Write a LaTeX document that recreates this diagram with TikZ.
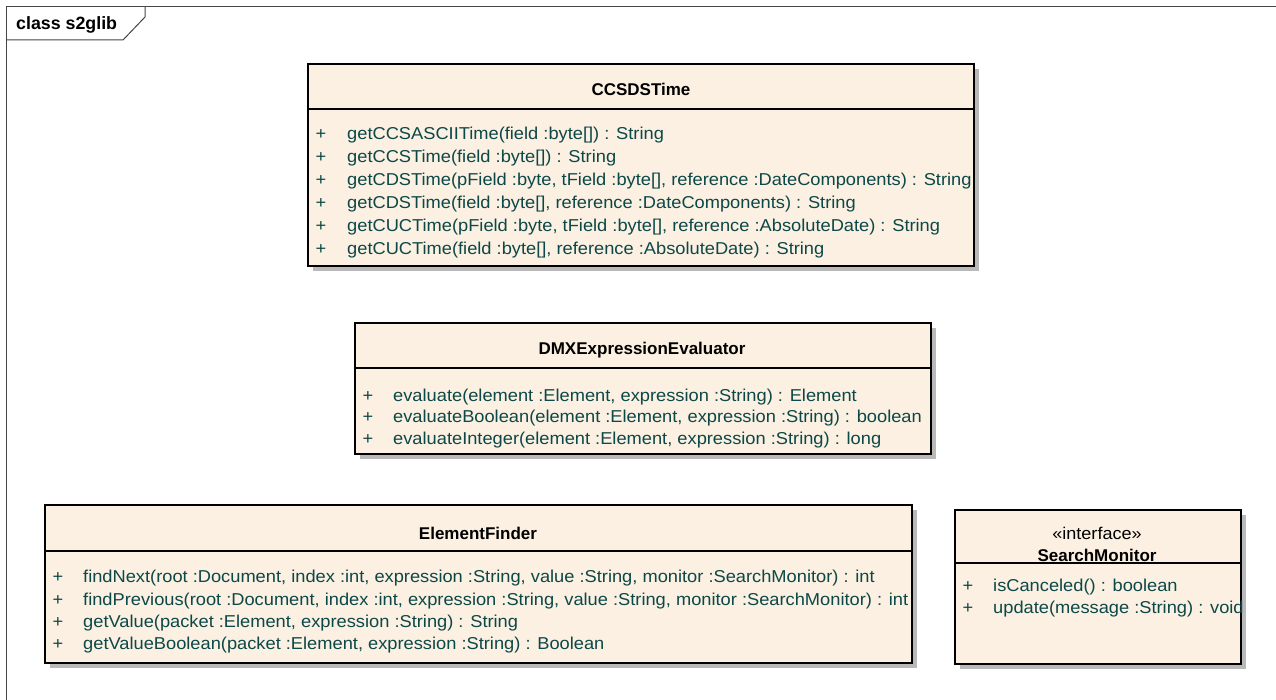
\documentclass[tikz,border=0pt]{standalone}
\usepackage{fontspec}
\setmainfont{Liberation Sans}
\newfontfamily\umlplain[FakeStretch=1.062]{Liberation Sans}
\usetikzlibrary{shadows}
\definecolor{umlfill}{RGB}{251,240,225}
\definecolor{umltext}{RGB}{12,72,72}
\definecolor{shadowgray}{RGB}{185,185,185}
\definecolor{framegray}{RGB}{70,70,70}
\begin{document}
\begin{tikzpicture}[x=1pt,y=-1pt,
  classbox/.style={draw=black, line width=1.6pt, fill=umlfill, inner sep=0pt, anchor=north west,
    drop shadow={shadow xshift=5pt, shadow yshift=-5pt, fill=shadowgray, opacity=1}},
  sepline/.style={draw=black, line width=1.6pt},
  frameline/.style={draw=framegray, line width=1pt},
  ctitle/.style={inner sep=0pt, font=\fontsize{17}{20}\selectfont\bfseries, text=black},
  stereo/.style={inner sep=0pt, font=\umlplain\fontsize{17}{20}\selectfont, text=black},
  member/.style={inner sep=0pt, anchor=west, font=\umlplain\fontsize{17.2}{20}\selectfont, text=umltext},
  plus/.style={inner sep=0pt, font=\umlplain\fontsize{17.2}{20}\selectfont, text=umltext},
  tabtext/.style={inner sep=0pt, anchor=west, font=\fontsize{17.8}{20}\selectfont\bfseries, text=black}
]
\useasboundingbox (0,0) rectangle (1276,700);
\fill[white] (0,0) rectangle (1276,700);
% frame and tab
\draw[frameline] (6,7) rectangle (1300,720);
\draw[frameline] (6,40) -- (123,40) -- (145,17) -- (145,7);
\node[tabtext] (tab) at (16,25) {class s2glib};

% CCSDSTime
\node[classbox, minimum width=666pt, minimum height=202pt] (ccsds) at (307,63) {};
\draw[sepline] (ccsds.north west) ++(0,46) -- ++(666,0);
\node[ctitle] (ccsdsT) at (641,89) {CCSDSTime};
\foreach \y in {135,158,181,204,227,250} \node[plus] at (321,\y) {+};
\node[member] (c1) at (347,135) {getCCSASCIITime(field :byte[]) : String};
\node[member] (c2) at (347,158) {getCCSTime(field :byte[]) : String};
\node[member] (c3) at (347,181) {getCDSTime(pField :byte, tField :byte[], reference :DateComponents) : String};
\node[member] (c4) at (347,204) {getCDSTime(field :byte[], reference :DateComponents) : String};
\node[member] (c5) at (347,227) {getCUCTime(pField :byte, tField :byte[], reference :AbsoluteDate) : String};
\node[member] (c6) at (347,250) {getCUCTime(field :byte[], reference :AbsoluteDate) : String};

% DMXExpressionEvaluator
\node[classbox, minimum width=576pt, minimum height=131pt] (dmx) at (354,322) {};
\draw[sepline] (dmx.north west) ++(0,46) -- ++(576,0);
\node[ctitle] (dmxT) at (642,350) {DMXExpressionEvaluator};
\foreach \y in {397,418,440} \node[plus] at (368,\y) {+};
\node[member] (d1) at (393,397) {evaluate(element :Element, expression :String) : Element};
\node[member] (d2) at (393,418) {evaluateBoolean(element :Element, expression :String) : boolean};
\node[member] (d3) at (393,440) {evaluateInteger(element :Element, expression :String) : long};

% ElementFinder
\node[classbox, minimum width=867pt, minimum height=158pt] (ef) at (44,504) {};
\draw[sepline] (ef.north west) ++(0,47) -- ++(867,0);
\node[ctitle] (efT) at (478,533) {ElementFinder};
\foreach \y in {578,601,623,645} \node[plus] at (58,\y) {+};
\node[member] (e1) at (83,578) {findNext(root :Document, index :int, expression :String, value :String, monitor :SearchMonitor) : int};
\node[member] (e2) at (83,601) {findPrevious(root :Document, index :int, expression :String, value :String, monitor :SearchMonitor) : int};
\node[member] (e3) at (83,623) {getValue(packet :Element, expression :String) : String};
\node[member] (e4) at (83,645) {getValueBoolean(packet :Element, expression :String) : Boolean};

% SearchMonitor
\node[classbox, minimum width=286pt, minimum height=154pt] (sm) at (954,509) {};
\draw[sepline] (sm.north west) ++(0,54) -- ++(286,0);
\node[stereo] (smS) at (1097,533) {«interface»};
\node[ctitle] (smT) at (1097,555) {SearchMonitor};
\foreach \y in {587,609} \node[plus] at (968,\y) {+};
\node[member] (s1) at (993,587) {isCanceled() : boolean};
\node[member] (s2) at (993,609) {update(message :String) : void};
\end{tikzpicture}
\end{document}
